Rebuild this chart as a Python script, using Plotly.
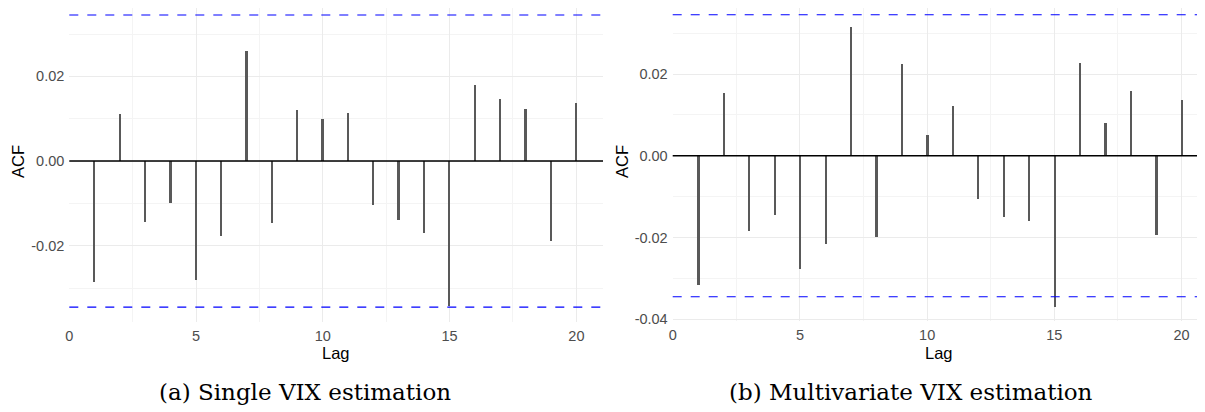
import plotly.graph_objects as go

lags = list(range(1, 21))
acf_single = [-0.0286, 0.0112, -0.0144, -0.0098, -0.0280, -0.0177, 0.0261, -0.0146, 0.0120, 0.0100,
              0.0113, -0.0103, -0.0140, -0.0169, -0.0343, 0.0180, 0.0147, 0.0122, -0.0189, 0.0137]
acf_multi = [-0.0317, 0.0154, -0.0184, -0.0144, -0.0278, -0.0217, 0.0316, -0.0199, 0.0224, 0.0050,
             0.0121, -0.0106, -0.0151, -0.0159, -0.0371, 0.0227, 0.0080, 0.0159, -0.0195, 0.0137]
ci_bound = 0.0345
y_ticks = [-0.04, -0.02, 0.0, 0.02]
y_ticktext = ["-0.04", "-0.02", "0.00", "0.02"]
x_ticks = [0, 5, 10, 15, 20]
captions = ["(a) Single VIX estimation", "(b) Multivariate VIX estimation"]

# page body has an 8px default margin; figure drawn inside it
OFF = 8
W, H = 1205 - OFF, 412 - OFF


def px_x(v):
    return (v - OFF) / W


def px_y(v):
    return 1 - (v - OFF) / H


bar_color = "#595959"
grid_major = "#ebebeb"
grid_minor = "#f4f4f4"
tick_font = dict(family="Liberation Sans, Arial, sans-serif", size=14.5, color="#4d4d4d")
title_font = dict(family="Liberation Sans, Arial, sans-serif", size=16.5, color="#000000")
cap_font = dict(family="DejaVu Serif, serif", size=23, color="#000000")

fig = go.Figure()
fig.add_trace(go.Bar(x=lags, y=acf_single, width=0.09, marker=dict(color=bar_color, line=dict(width=0)),
                     xaxis="x", yaxis="y", showlegend=False))
fig.add_trace(go.Bar(x=lags, y=acf_multi, width=0.09, marker=dict(color=bar_color, line=dict(width=0)),
                     xaxis="x2", yaxis="y2", showlegend=False))

panels = [
    dict(xa="xaxis", ya="yaxis", xr="x", yr="y", xdom=[px_x(69.3), px_x(603)], ydom=[px_y(321.7), 1.0],
         yrange=[-0.03795, 0.03805], xrange=[0, 21.05]),
    dict(xa="xaxis2", ya="yaxis2", xr="x2", yr="y2", xdom=[px_x(672.7), 1.0], ydom=[px_y(320.5), 1.0],
         yrange=[-0.0403, 0.0381], xrange=[0, 20.92]),
]
# panel tops sit at the page top, OFF px above the figure; trim the ranges accordingly
for p in panels:
    lo, hi = p["yrange"]
    per_px = (hi - lo) / 321.0
    p["yrange"] = [lo, hi - per_px * OFF]

layout_axes = {}
for p in panels:
    layout_axes[p["xa"]] = dict(domain=p["xdom"], range=p["xrange"], tickvals=x_ticks, showgrid=True,
                                gridcolor=grid_major, gridwidth=1, zeroline=False, showline=False,
                                tickfont=tick_font, anchor=p["yr"], ticks="", ticklabelstandoff=4,
                                automargin=False,
                                minor=dict(dtick=2.5, tick0=0, showgrid=True, gridcolor=grid_minor, gridwidth=1))
    layout_axes[p["ya"]] = dict(domain=p["ydom"], range=p["yrange"], tickvals=y_ticks, ticktext=y_ticktext,
                                showgrid=True, gridcolor=grid_major, gridwidth=1, zeroline=False, showline=False,
                                tickfont=tick_font, anchor=p["xr"], ticks="", ticklabelstandoff=4,
                                automargin=False,
                                minor=dict(dtick=0.01, tick0=0, showgrid=True, gridcolor=grid_minor, gridwidth=1))

shapes = []
for p in panels:
    for b in (ci_bound, -ci_bound):
        shapes.append(dict(type="line", xref=p["xr"] + " domain", yref=p["yr"], x0=0, x1=1, y0=b, y1=b,
                           line=dict(color="#0000ff", width=1.1, dash="dash")))
    shapes.append(dict(type="line", xref=p["xr"] + " domain", yref=p["yr"], x0=0, x1=1, y0=0, y1=0,
                       line=dict(color="#000000", width=1.6)))

annotations = []
for cx_px, acf_x_px in [(336, 18), (939, 622)]:
    annotations.append(dict(text="Lag", x=px_x(cx_px), y=px_y(353), xref="paper", yref="paper",
                            showarrow=False, font=title_font, xanchor="center", yanchor="middle"))
    annotations.append(dict(text="ACF", x=px_x(acf_x_px), y=px_y(162), xref="paper", yref="paper",
                            showarrow=False, font=title_font, textangle=-90, xanchor="center", yanchor="middle"))
annotations.append(dict(text=captions[0], x=px_x(305), y=px_y(392), xref="paper", yref="paper",
                        showarrow=False, font=cap_font, xanchor="center", yanchor="middle"))
annotations.append(dict(text=captions[1], x=px_x(911), y=px_y(392), xref="paper", yref="paper",
                        showarrow=False, font=cap_font, xanchor="center", yanchor="middle"))

fig.update_layout(width=W, height=H, margin=dict(l=0, r=0, t=0, b=0, autoexpand=False),
                  paper_bgcolor="white", plot_bgcolor="white", shapes=shapes, annotations=annotations,
                  bargap=0, **layout_axes)

fig.write_html("out.html")
